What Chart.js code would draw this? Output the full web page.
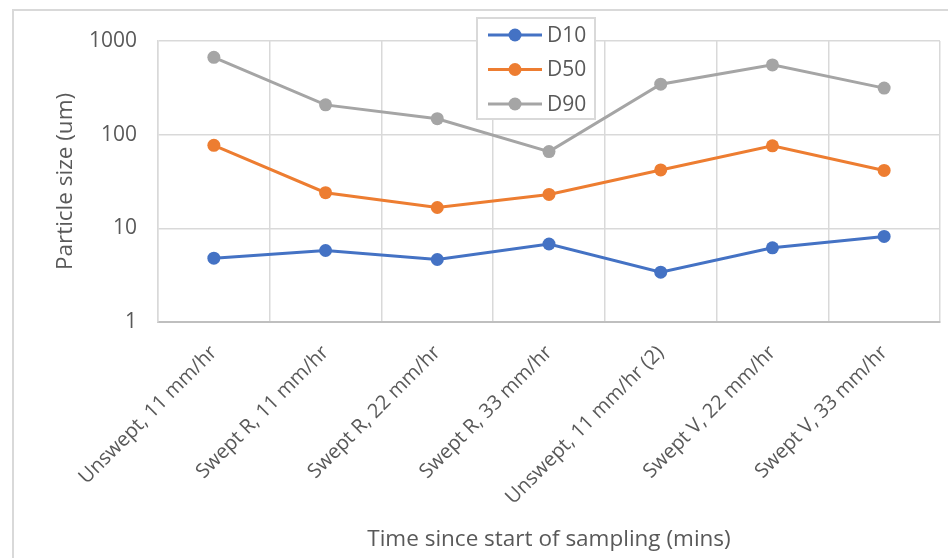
<!DOCTYPE html>
<html>
<head>
<meta charset="utf-8">
<script src="https://cdn.jsdelivr.net/npm/chart.js@4/dist/chart.umd.min.js"></script>
<style>
  html, body { margin: 0; padding: 0; background: #ffffff; }
  #wrap { width: 948px; height: 558px; }
</style>
</head>
<body>
<div id="wrap"><canvas id="c" width="948" height="558"></canvas></div>
<script>
// Sampling conditions along the x axis
const categories = [
  'Unswept, 11 mm/hr',
  'Swept R, 11 mm/hr',
  'Swept R, 22 mm/hr',
  'Swept R, 33 mm/hr',
  'Unswept, 11 mm/hr (2)',
  'Swept V, 22 mm/hr',
  'Swept V, 33 mm/hr'
];
// Particle size percentiles (um)
const d10 = [4.8, 5.8, 4.65, 6.8, 3.4, 6.2, 8.2];
const d50 = [77, 24, 16.7, 23, 42, 76, 41.5];
const d90 = [670, 208, 148, 66, 346, 556, 314];
// Log-axis tick values
const yTicks = [1, 10, 100, 1000];

const seriesNames = ['D10', 'D50', 'D90'];
const seriesColors = ['#4472C4', '#ED7D31', '#A5A5A5'];
const seriesData = [d10, d50, d90];

const TEXT = '#595959';
const GRID = '#d9d9d9';
const FONT = "'Open Sans', 'Noto Sans', sans-serif";

// Light frame around the whole chart
const framePlugin = {
  id: 'frame',
  beforeDraw(chart) {
    const ctx = chart.ctx;
    ctx.save();
    ctx.fillStyle = '#ffffff';
    ctx.fillRect(0, 0, chart.width, chart.height);
    ctx.strokeStyle = GRID;
    ctx.lineWidth = 2;
    ctx.strokeRect(13, 10, chart.width + 20, chart.height + 20);
    ctx.restore();
  }
};

// Boxed legend placed over the top of the plot area
const boxLegendPlugin = {
  id: 'boxLegend',
  afterDraw(chart) {
    const ctx = chart.ctx;
    const x0 = 477, y0 = 18, w = 118, h = 101;
    ctx.save();
    ctx.fillStyle = '#ffffff';
    ctx.fillRect(x0, y0, w, h);
    ctx.strokeStyle = GRID;
    ctx.lineWidth = 2;
    ctx.strokeRect(x0, y0, w, h);
    chart.data.datasets.forEach((ds, i) => {
      const cy = y0 + 17 + i * 34.5;
      ctx.strokeStyle = ds.borderColor;
      ctx.lineWidth = 3;
      ctx.beginPath();
      ctx.moveTo(x0 + 11, cy);
      ctx.lineTo(x0 + 65, cy);
      ctx.stroke();
      ctx.fillStyle = ds.backgroundColor;
      ctx.beginPath();
      ctx.arc(x0 + 38, cy, 6.5, 0, Math.PI * 2);
      ctx.fill();
      ctx.fillStyle = TEXT;
      ctx.font = '21px ' + FONT;
      ctx.textBaseline = 'middle';
      ctx.textAlign = 'left';
      ctx.fillText(ds.label, x0 + 70, cy + 1);
    });
    ctx.restore();
  }
};

new Chart(document.getElementById('c'), {
  type: 'line',
  data: {
    labels: categories,
    datasets: seriesNames.map((name, i) => ({
      label: name,
      data: seriesData[i],
      borderColor: seriesColors[i],
      backgroundColor: seriesColors[i],
      borderWidth: 3,
      pointRadius: 6.5,
      pointBorderWidth: 0,
      pointHoverRadius: 6.5,
      tension: 0
    }))
  },
  options: {
    responsive: false,
    animation: false,
    devicePixelRatio: 1,
    layout: { padding: { left: 0, right: 8, top: 41, bottom: 0 } },
    plugins: {
      legend: { display: false },
      tooltip: { enabled: false }
    },
    scales: {
      x: {
        type: 'category',
        offset: true,
        grid: { offset: true, color: GRID, lineWidth: 1.5, drawTicks: false },
        border: { color: '#bfbfbf', width: 2 },
        ticks: {
          color: TEXT,
          font: { family: FONT, size: 20 },
          minRotation: 45,
          maxRotation: 45,
          autoSkip: false,
          padding: 19
        },
        title: {
          display: true,
          text: 'Time since start of sampling (mins)',
          color: TEXT,
          font: { family: FONT, size: 22.5 },
          padding: { top: 0, bottom: 5 }
        },
        afterFit(scale) { scale.height = 236; }
      },
      y: {
        type: 'logarithmic',
        min: 1,
        max: 1000,
        grid: { color: GRID, lineWidth: 1.5, drawTicks: false },
        border: { color: GRID, width: 1.5 },
        afterBuildTicks(scale) { scale.ticks = yTicks.map(v => ({ value: v })); },
        ticks: {
          color: TEXT,
          font: { family: FONT, size: 21 },
          padding: 21,
          callback: (v) => String(v)
        },
        title: {
          display: true,
          text: 'Particle size (um)',
          color: TEXT,
          font: { family: FONT, size: 22.5 },
          padding: { top: 52, bottom: 0 }
        },
        afterFit(scale) { scale.width = 158; }
      }
    }
  },
  plugins: [framePlugin, boxLegendPlugin]
});
</script>
</body>
</html>
